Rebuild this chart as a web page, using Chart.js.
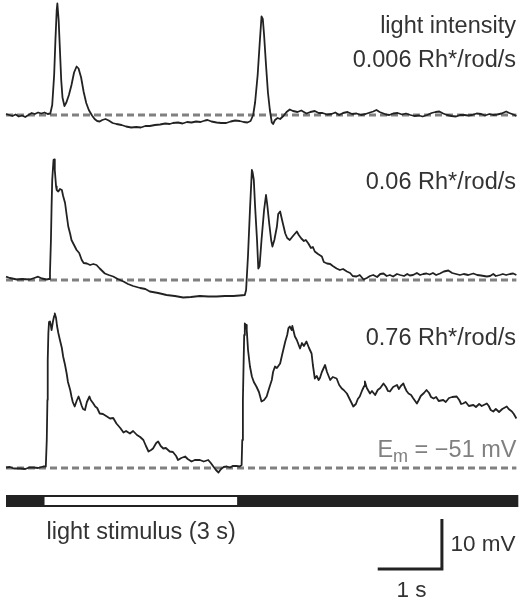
<!DOCTYPE html>
<html>
<head>
<meta charset="utf-8">
<script src="https://cdn.jsdelivr.net/npm/chart.js@4"></script>
<style>
  html, body { margin: 0; padding: 0; background: #fff; }
  canvas { display: block; }
</style>
</head>
<body>
<canvas id="traces" width="521" height="600"></canvas>
<script>
// ── membrane potential traces (time in s, deflection from Em in mV) ──
const t1 = [0,0.05,0.1,0.15,0.2,0.25,0.3,0.35,0.4,0.45,0.5,0.55,0.6,0.65,0.69,0.72,0.75,0.77,0.79,0.8,0.82,0.84,0.86,0.88,0.91,0.94,0.98,1.02,1.06,1.1,1.13,1.17,1.21,1.25,1.29,1.34,1.38,1.42,1.46,1.5,1.55,1.6,1.66,1.72,1.8,1.87,1.95,2.03,2.1,2.17,2.24,2.32,2.4,2.48,2.55,2.6,2.68,2.75,2.82,2.89,2.96,3.03,3.1,3.14,3.2,3.28,3.35,3.43,3.5,3.57,3.64,3.7,3.76,3.81,3.85,3.88,3.92,3.95,3.98,4,4.02,4.05,4.08,4.11,4.14,4.16,4.19,4.23,4.27,4.32,4.37,4.42,4.47,4.54,4.6,4.68,4.74,4.81,4.87,4.93,5,5.07,5.13,5.19,5.25,5.32,5.39,5.46,5.53,5.6,5.67,5.72,5.77,5.82,5.86,5.92,5.97,6.03,6.1,6.17,6.23,6.3,6.36,6.43,6.49,6.56,6.63,6.69,6.75,6.81,6.87,6.94,7.01,7.07,7.14,7.2,7.26,7.33,7.4,7.46,7.53,7.59,7.65,7.72,7.79,7.84,7.88,7.92,7.95];
const v1 = [0.2,0,-0.2,0.1,-0.3,-0.1,-0.4,0,0.4,0.2,0.5,0.3,0.5,0.2,0.3,2,8,15,21,22.3,19,13,7,3.5,1.8,2.5,4,6,8.5,9.7,9.3,7.5,4.6,2.4,1,-0.1,-0.8,-1.2,-1.3,-1,-0.8,-1.1,-1.6,-1.8,-2,-2.3,-2.5,-2.4,-2.5,-2.2,-2.2,-2,-1.9,-1.7,-1.8,-1.6,-1.5,-1.7,-1.4,-1.5,-1.3,-1.4,-1.1,-1,-1.3,-1.5,-1.6,-1.6,-1.3,-1.1,-1.2,-1.4,-1.5,-1.2,0,2.5,8,14,19.7,19.2,16,10,4.5,1,-1.5,-1.8,-1,-0.6,-0.8,-0.2,0.6,1.1,0.8,0.6,0.9,0.3,0.6,0.8,0.4,0.4,0.1,0.2,0.5,0,0.4,0.6,0.2,0.3,0,0.2,0.5,0.7,1,0.6,0.4,0.1,0,0.3,0.4,0.1,0.3,0,-0.2,-0.1,-0.3,0,0.4,0.6,0.7,0.3,0,-0.2,-0.3,0,0,-0.1,0,0.3,0.2,-0.1,0.2,0,0.1,0.3,0.7,0.4,0.2,0,-0.2];

const t2 = [0,0.06,0.17,0.25,0.37,0.44,0.5,0.56,0.63,0.67,0.685,0.7,0.71,0.72,0.74,0.75,0.76,0.78,0.79,0.815,0.84,0.87,0.89,0.92,0.945,0.97,1,1.02,1.06,1.1,1.14,1.18,1.21,1.26,1.31,1.36,1.41,1.46,1.5,1.54,1.6,1.67,1.74,1.83,1.9,1.98,2.09,2.17,2.24,2.37,2.5,2.63,2.76,2.88,3.02,3.15,3.28,3.41,3.54,3.64,3.72,3.74,3.77,3.8,3.83,3.84,3.86,3.88,3.91,3.93,3.95,3.98,4.02,4.05,4.07,4.1,4.13,4.15,4.18,4.22,4.24,4.27,4.3,4.35,4.38,4.42,4.47,4.53,4.56,4.6,4.64,4.67,4.71,4.75,4.78,4.81,4.86,4.92,4.95,5,5.05,5.09,5.15,5.2,5.25,5.31,5.36,5.4,5.46,5.51,5.57,5.62,5.67,5.72,5.78,5.83,5.88,5.93,5.98,6.03,6.09,6.14,6.2,6.25,6.29,6.34,6.4,6.45,6.5,6.55,6.6,6.65,6.7,6.76,6.82,6.89,6.95,7.01,7.07,7.13,7.2,7.28,7.34,7.4,7.49,7.54,7.59,7.63,7.69,7.74,7.79,7.85,7.9,7.95];
const v2 = [0.66,0.4,0.1,0.2,0.1,0.4,0.66,0.3,0.1,0.2,1.4,8,14.7,20,24,24.1,22,18.7,18,17.7,18.2,18,16.8,15.4,13,10.7,9.2,8,7,6,5.4,4,3.4,3.3,3,3.2,3,2.3,1.8,1.3,1,0.7,0.2,-0.3,-0.8,-1.2,-1.6,-1.8,-2.3,-2.6,-3,-3.2,-3.5,-3.4,-3.2,-3.3,-3.3,-3.2,-3.2,-3.1,-3,-2,5,14,22,21.6,20,14.7,8,2.3,2.8,8,14,17,15,11.3,8,6.7,8,10.7,13.2,13.7,12,9.3,8.4,8,8.8,9.7,9,8.3,7.8,8,7.3,6.4,6.6,5.7,5.2,4.7,3.6,3.3,3.2,2.8,2.3,2,2.2,1.7,1.4,0.8,0.7,1,0.1,0.4,0.8,1,0.6,1.2,1.3,0.8,1,0.7,1.2,1,0.8,1.2,0.9,1,1.4,1,1.2,1.3,1.1,1.4,1,1.3,1.7,1.9,1.4,1.2,1,1.2,1,1.3,1,0.9,0.7,0.8,1.2,0.8,1,1.2,1,1.2,1.3,1];

const t3 = [0,0.06,0.12,0.22,0.3,0.36,0.43,0.5,0.58,0.62,0.635,0.645,0.65,0.66,0.67,0.685,0.7,0.71,0.73,0.75,0.76,0.78,0.795,0.815,0.84,0.87,0.89,0.92,0.945,0.965,1,1.02,1.04,1.07,1.1,1.13,1.15,1.18,1.2,1.23,1.26,1.3,1.32,1.355,1.39,1.42,1.46,1.51,1.56,1.62,1.67,1.72,1.78,1.83,1.87,1.93,1.98,2.04,2.09,2.14,2.18,2.22,2.26,2.29,2.34,2.37,2.41,2.45,2.49,2.55,2.6,2.65,2.68,2.73,2.79,2.83,2.89,2.94,3.02,3.08,3.15,3.19,3.23,3.27,3.31,3.35,3.39,3.44,3.49,3.53,3.59,3.64,3.67,3.68,3.69,3.7,3.71,3.72,3.74,3.75,3.77,3.8,3.83,3.86,3.9,3.94,3.98,4.02,4.06,4.1,4.14,4.16,4.19,4.22,4.27,4.3,4.35,4.38,4.4,4.42,4.45,4.46,4.5,4.53,4.58,4.61,4.64,4.68,4.72,4.76,4.78,4.81,4.84,4.87,4.89,4.92,4.97,5,5.05,5.09,5.15,5.19,5.23,5.26,5.31,5.36,5.41,5.45,5.48,5.51,5.55,5.58,5.59,5.62,5.67,5.7,5.75,5.79,5.83,5.88,5.92,5.95,5.98,6.03,6.09,6.12,6.15,6.19,6.21,6.24,6.27,6.31,6.34,6.4,6.43,6.46,6.51,6.55,6.59,6.62,6.66,6.7,6.74,6.81,6.85,6.9,6.95,7.02,7.06,7.09,7.12,7.16,7.21,7.28,7.32,7.37,7.41,7.49,7.52,7.55,7.59,7.63,7.68,7.73,7.8,7.83,7.88,7.91,7.95];
const v3 = [0.1,0.2,-0.1,-0.1,-0.2,0.1,0.1,0,0.3,0.3,5.6,13.6,21.6,27,29.2,29.3,28.4,27.6,29.2,30.4,30.9,30,28.4,27,25.6,24,22.3,20.6,18.9,17.2,15.6,14.3,13.2,12.3,13.4,14.3,13.6,12.4,11.8,11.6,13.2,14.3,13.6,13,12.3,12,10.9,10.8,10.4,9.9,10,8.9,8,7.1,7.4,6.9,7.4,6.6,6.2,5.6,4.4,3.3,3.6,3.9,5,5.3,4.4,3.9,4,3.3,3.2,2.4,1.6,2,2.3,1.8,1.3,1.6,1.6,1.3,1.6,1,0.3,-0.4,-0.9,-0.2,0.2,0.3,0.1,0.4,0.4,0.3,0.6,5.6,13.6,20.3,26.6,28.9,28.6,27.6,23.6,20.3,18.3,17.2,16.3,15.2,13.3,13.6,14.3,16,17.6,19.2,20.3,20,20.9,22.6,25.3,26.6,28,28.3,27.6,28.4,26.3,25.6,23.9,25,24.4,25.3,24,22.9,20.6,17.9,18.4,17.6,18,19.2,20.6,19.2,17.6,18.2,17.9,16.6,15.9,15.6,14.9,13.6,12.3,12.8,13.8,14.3,15.6,16.4,17.3,16,14.9,15.4,14.6,15.6,16,16.9,16.2,15.4,15.3,16.2,16.6,15.8,16.4,16.9,16.2,15.4,14.9,14.6,14,12.9,13.6,14.4,15,15.6,15,14.2,13.9,14.2,13.4,13.6,13.2,14,14.2,14.3,13.6,12.8,12.9,13.2,12.4,12.6,12.2,12.8,12.4,12.9,12.4,11.6,11.3,11.8,11.2,11.8,12.3,11.8,11.3,10.8,9.9];

const intensityLabels = ['0.006 Rh*/rod/s', '0.06 Rh*/rod/s', '0.76 Rh*/rod/s'];
const tEnd = 7.95;                 // s, recording length
const stimulus = [0.6, 3.6];       // s, light on / off
const scaleBar = { time: 1, mV: 10 };

// ── layout (5 px per mV, 64.2 px per s) ──
const offsets = [97, 64, 26.4];    // mV position of each trace's Em line
const stimLevel = 19.8;
const barCorner = { x: 6.79, y: 6.2 };

const INK = '#222';
const DASH = '#808080';
const FONT = '"Liberation Sans", Arial, sans-serif';

function trace(ts, vs, off) {
  return ts.map((t, i) => ({ x: t, y: off + vs[i] }));
}

// higher `order` is drawn first (underneath)
function hline(x0, x1, y, color, width, dash, order) {
  return {
    data: [{ x: x0, y }, { x: x1, y }],
    borderColor: color, borderWidth: width, borderDash: dash || [],
    borderCapStyle: 'butt', pointRadius: 0, tension: 0, order
  };
}

const datasets = [];
offsets.forEach(off => datasets.push(hline(0, tEnd, off, DASH, 3, [7, 4], 3)));
[[t1, v1], [t2, v2], [t3, v3]].forEach(([ts, vs], i) => {
  datasets.push({
    data: trace(ts, vs, offsets[i]),
    borderColor: INK, borderWidth: 1.8, pointRadius: 0, tension: 0,
    borderJoinStyle: 'round', order: 2
  });
});
// light stimulus bar: dark = darkness, white window = light on
datasets.push(hline(0, tEnd + 0.03, stimLevel, INK, 12, null, 2));
datasets.push(hline(stimulus[0], stimulus[1], stimLevel, '#ffffff', 8, null, 1));
// scale bars
datasets.push({
  data: [
    { x: barCorner.x - scaleBar.time, y: barCorner.y },
    { x: barCorner.x, y: barCorner.y },
    { x: barCorner.x, y: barCorner.y + scaleBar.mV }
  ],
  borderColor: INK, borderWidth: 3, borderCapStyle: 'butt',
  borderJoinStyle: 'miter', pointRadius: 0, tension: 0, order: 1
});

const labels = {
  id: 'labels',
  afterDraw(chart) {
    const ctx = chart.ctx;
    ctx.save();
    ctx.fillStyle = '#333';
    ctx.font = '23.5px ' + FONT;
    ctx.textAlign = 'right';
    ctx.textBaseline = 'alphabetic';
    ctx.fillText('light intensity', 516, 33);
    ctx.fillText(intensityLabels[0], 516, 66.5);
    ctx.fillText(intensityLabels[1], 516, 188.5);
    ctx.fillText(intensityLabels[2], 516, 345);

    // E_m = −51 mV
    ctx.fillStyle = DASH;
    const rest = ' = \u221251 mV';
    const wRest = ctx.measureText(rest).width;
    ctx.fillText(rest, 516.5, 456.7);
    ctx.font = '18px ' + FONT;
    const wm = ctx.measureText('m').width;
    ctx.fillText('m', 516.5 - wRest, 461.7);
    ctx.font = '23.5px ' + FONT;
    ctx.fillText('E', 516.5 - wRest - wm, 456.7);

    ctx.fillStyle = '#333';
    ctx.textAlign = 'left';
    ctx.fillText('light stimulus (' + (stimulus[1] - stimulus[0]) + ' s)', 46.5, 538.5);
    ctx.font = '22.5px ' + FONT;
    ctx.fillText(scaleBar.mV + ' mV', 450.5, 550.5);
    ctx.textAlign = 'center';
    ctx.fillText(scaleBar.time + ' s', 411.5, 596.5);
    ctx.restore();
  }
};

new Chart(document.getElementById('traces'), {
  type: 'line',
  data: { datasets },
  options: {
    responsive: false,
    animation: false,
    events: [],
    layout: { padding: 0 },
    plugins: { legend: { display: false }, tooltip: { enabled: false } },
    scales: {
      x: { type: 'linear', min: -6 / 64.2, max: 515 / 64.2, display: false },
      y: { type: 'linear', min: 0, max: 120, display: false }
    }
  },
  plugins: [labels]
});
</script>
</body>
</html>
